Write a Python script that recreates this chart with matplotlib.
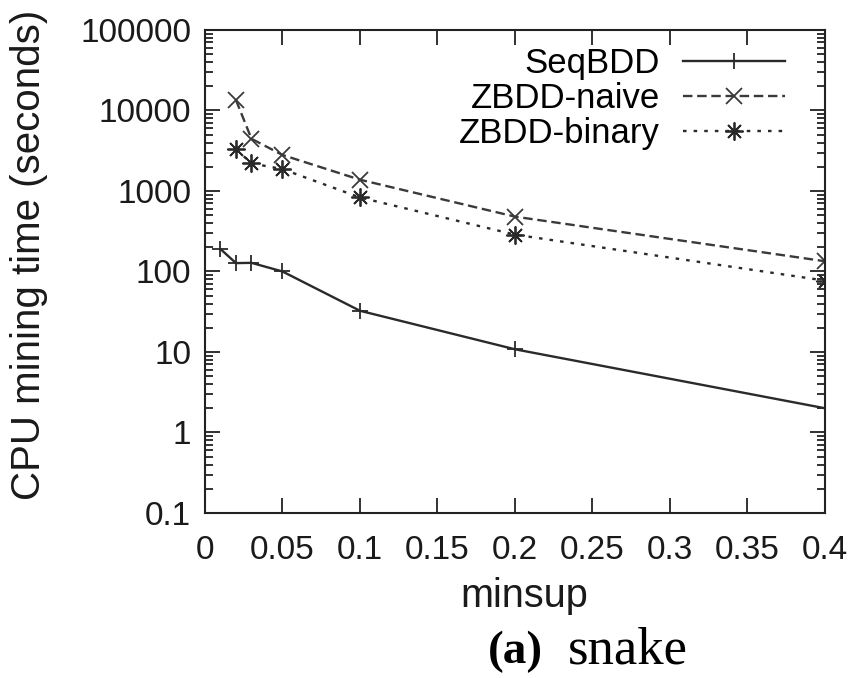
import matplotlib
matplotlib.use("Agg")
import matplotlib.pyplot as plt
from matplotlib.ticker import LogLocator, FixedLocator, NullFormatter

minsup_seq = [0.01, 0.02, 0.03, 0.05, 0.1, 0.2, 0.4]
seqbdd = [190, 127, 128, 100, 32.5, 10.8, 2.0]

minsup_zbdd = [0.02, 0.03, 0.05, 0.1, 0.2, 0.4]
zbdd_naive = [13500, 4450, 2800, 1380, 480, 134]
zbdd_binary = [3300, 2200, 1870, 830, 287, 77]

xticks = [0, 0.05, 0.1, 0.15, 0.2, 0.25, 0.3, 0.35, 0.4]
xticklabels = ["0", "0.05", "0.1", "0.15", "0.2", "0.25", "0.3", "0.35", "0.4"]
yticks = [0.1, 1, 10, 100, 1000, 10000, 100000]
yticklabels = ["0.1", "1", "10", "100", "1000", "10000", "100000"]

plt.rcParams['font.family'] = ['Liberation Sans', 'DejaVu Sans']

fig = plt.figure(figsize=(8.54, 6.78), dpi=100)
ax = fig.add_axes([0.240, 0.2434, 0.726, 0.7124])

col = "#2a2a2a"
ax.plot(minsup_seq, seqbdd, color=col, lw=1.7, ls='-', marker='+', ms=12, mew=1.3, label="SeqBDD")
ax.plot(minsup_zbdd, zbdd_naive, color="#3a3a3a", lw=1.7, ls=(0, (4, 2)), marker='x', ms=11, mew=1.3, label="ZBDD-naive")
ax.plot(minsup_zbdd, zbdd_binary, color=col, lw=1.7, ls=(0, (1.5, 3)), marker=(8, 2, 0), ms=13, mew=1.3, label="ZBDD-binary")

ax.set_yscale('log')
ax.set_xlim(0, 0.4)
ax.set_ylim(0.1, 100000)
ax.xaxis.set_major_locator(FixedLocator(xticks))
ax.set_xticklabels(xticklabels)
ax.yaxis.set_major_locator(FixedLocator(yticks))
ax.set_yticklabels(yticklabels)
ax.yaxis.set_minor_locator(LogLocator(base=10, subs=range(2, 10), numticks=20))
ax.yaxis.set_minor_formatter(NullFormatter())

ax.tick_params(which='both', direction='in', top=True, right=True, color='#222222', width=1.3)
ax.tick_params(which='major', length=11, labelsize=24, labelcolor='#1a1a1a')
ax.tick_params(axis='x', which='major', pad=16)
ax.tick_params(axis='y', which='major', pad=10)
ax.tick_params(which='minor', length=6)
for s in ax.spines.values():
    s.set_linewidth(1.5)
    s.set_color('#222222')

ax.set_xlabel("minsup", fontsize=28.5, color='#1a1a1a')
ax.set_ylabel("CPU mining time (seconds)", fontsize=29, color='#1a1a1a')
ax.xaxis.set_label_coords(0.515, -0.1325)
ax.yaxis.set_label_coords(-0.253, 0.534)

leg = ax.legend(loc='upper right', bbox_to_anchor=(0.963, 1.0), markerfirst=False, frameon=False,
                fontsize=25, handlelength=2.94, labelspacing=0.05, borderaxespad=0.1,
                handletextpad=0.66)

fig.text(0.571, 0.022, "(a)", fontsize=34, fontweight='bold', family='Liberation Serif', ha='left', va='baseline')
fig.text(0.665, 0.022, "snake", fontsize=38, family='Liberation Serif', ha='left', va='baseline')

fig.savefig("out.png", dpi=100)
